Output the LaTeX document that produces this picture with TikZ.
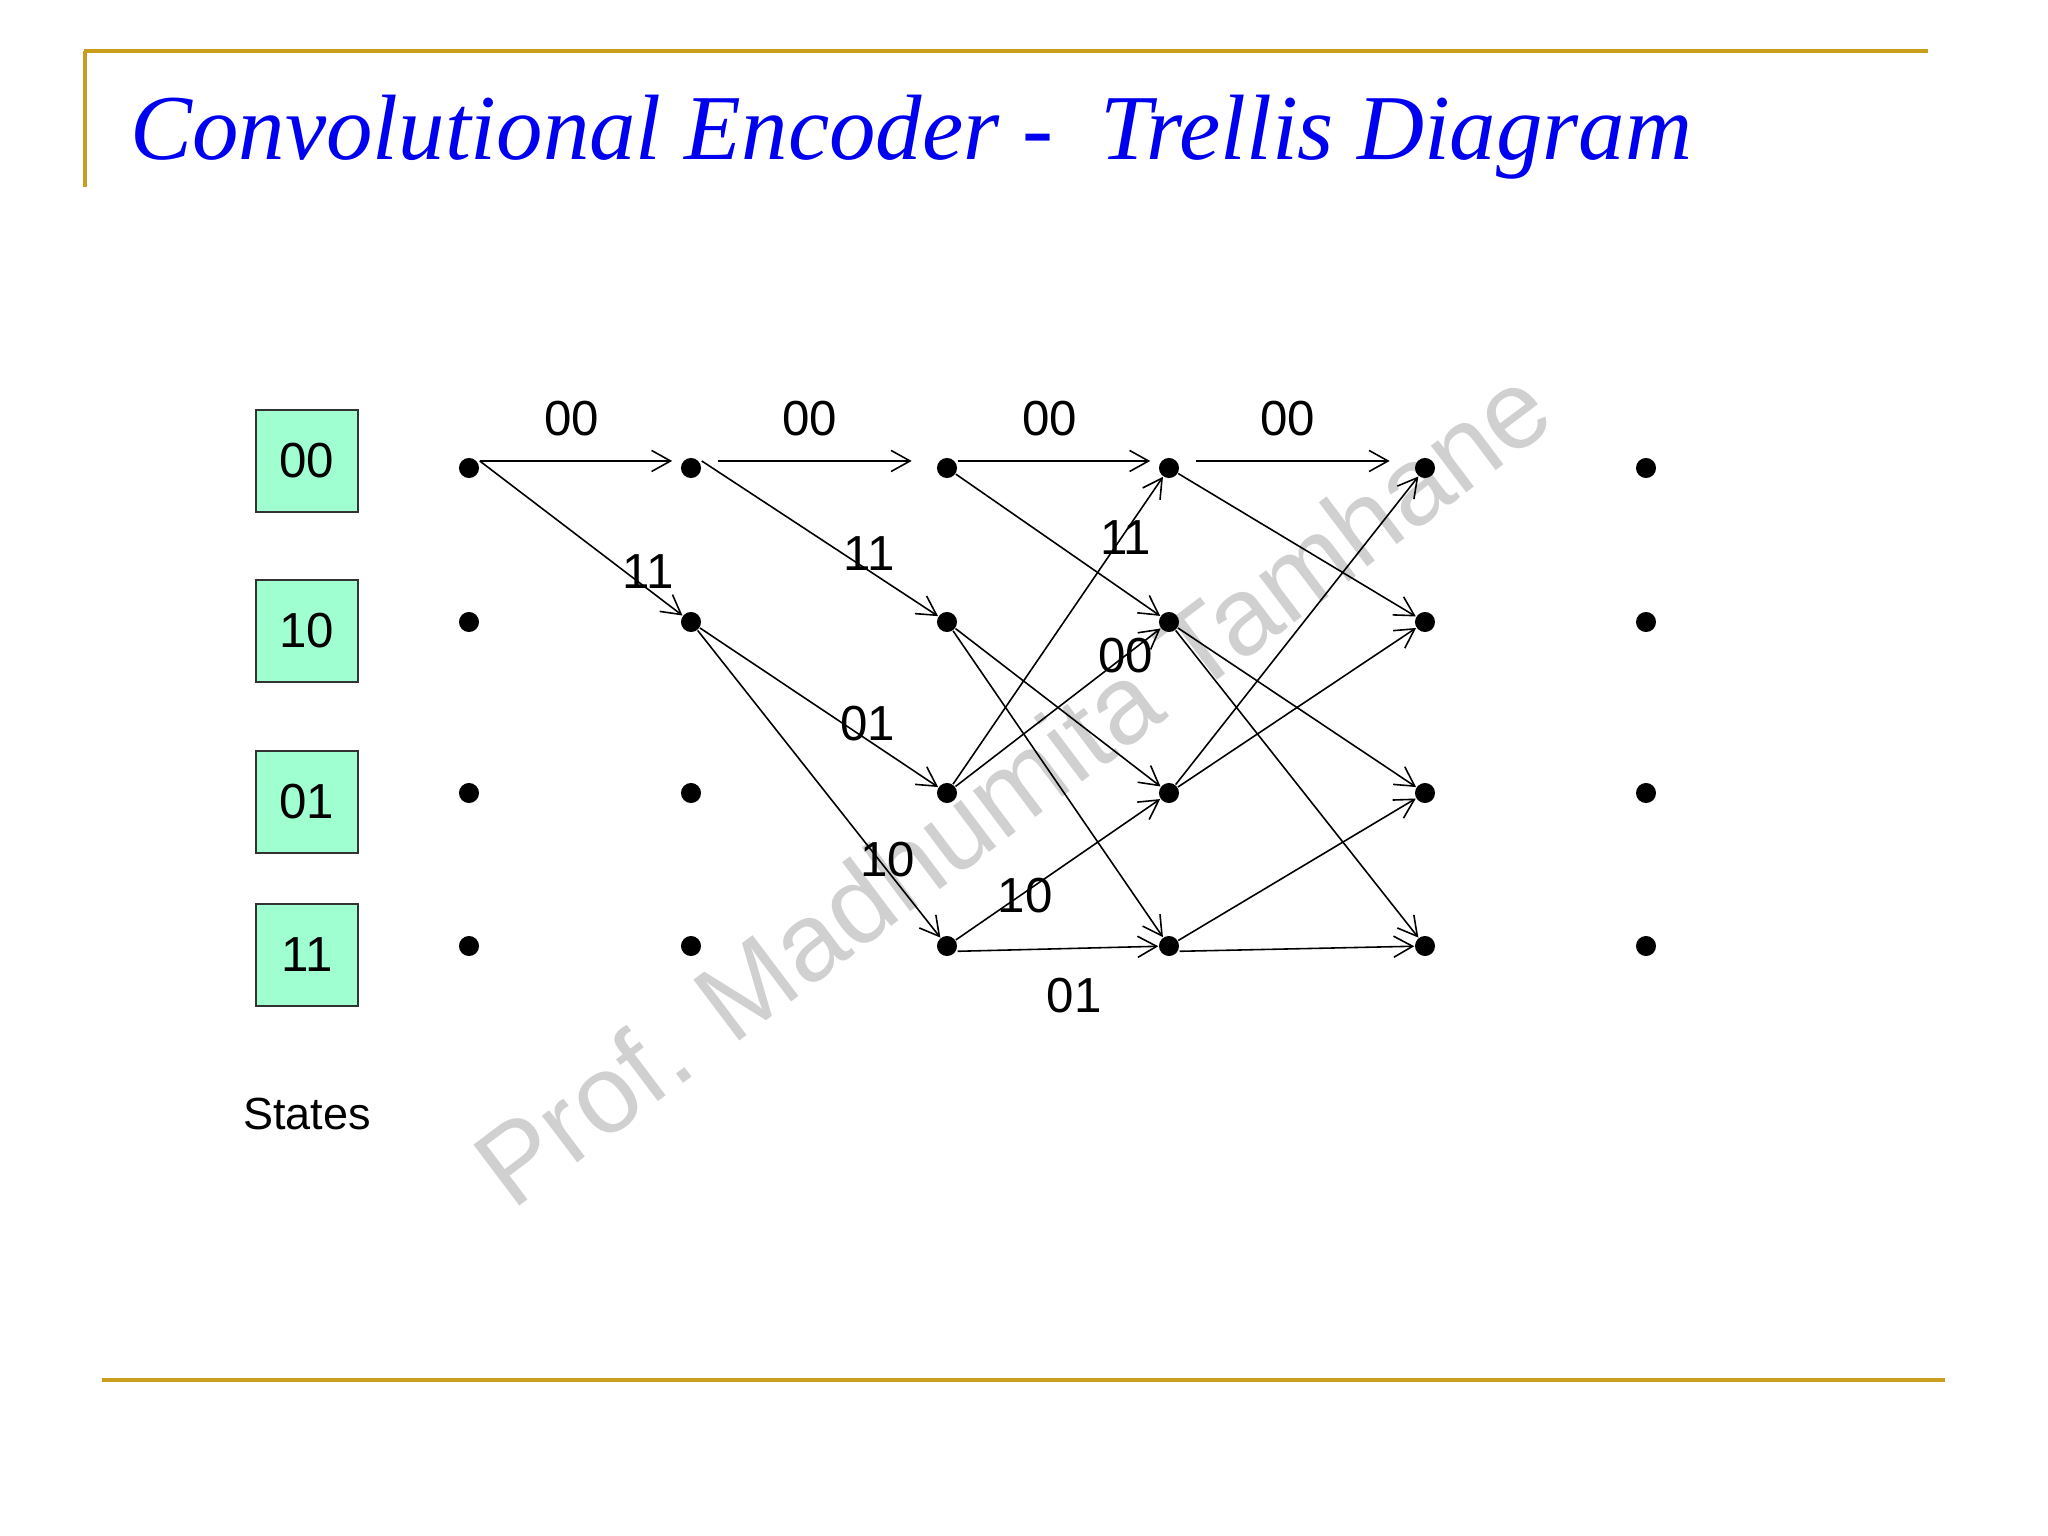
\documentclass[tikz,border=0pt]{standalone}
\usepackage{fontspec}
\setmainfont{Liberation Sans}
\newfontfamily\titlefont{Liberation Serif}
\usetikzlibrary{arrows.meta}
\definecolor{rulegold}{RGB}{201,158,30}
\definecolor{stategreen}{RGB}{160,255,208}
\definecolor{titleblue}{RGB}{0,0,240}
\definecolor{markgray}{RGB}{208,208,208}
\tikzset{
    trellisdot/.style={circle, fill=black, inner sep=0pt, minimum size=5.7pt},
    statebox/.style={rectangle, draw=black!80, line width=0.5pt, fill=stategreen,
                     minimum width=29pt, minimum height=29pt, inner sep=0pt,
                     font=\fontsize{14}{17}\selectfont},
    arrow/.style={-{Straight Barb[length=5.4pt, width=6pt]}, line width=0.45pt, draw=black},
    edgelbl/.style={font=\fontsize{14}{17}\selectfont, inner sep=0pt},
    goldrule/.style={draw=rulegold, line width=1.3pt},
}

\begin{document}
\begin{tikzpicture}[x=0.01cm, y=-0.01cm]
    \useasboundingbox (0,0) rectangle (2048,1536);
    % watermark
    \node[text=markgray, rotate=37, font=\fontsize{31.5}{38}\selectfont] (mark) at (1012,786)
        {Prof. Madhumita Tamhane};
    % frame
    \draw[goldrule] (84,51) -- (1928,51);
    \draw[goldrule] (85,51) -- (85,187);
    \draw[goldrule] (102,1380) -- (1945,1380);
    \node[text=titleblue, anchor=base west, font=\titlefont\itshape\fontsize{26.4}{32}\selectfont]
        (title) at (118,159) {Convolutional Encoder -\ \ Trellis Diagram};
    % states
    \node[statebox] (s00) at (307,461) {00};
    \node[statebox] (s10) at (307,631) {10};
    \node[statebox] (s01) at (307,802) {01};
    \node[statebox] (s11) at (307,955) {11};
    \node[edgelbl, font=\fontsize{12.8}{15}\selectfont] (states) at (307,1114) {States};
    % trellis points
    \node[trellisdot] (n01) at (469,468) {};
    \node[trellisdot] (n02) at (469,622) {};
    \node[trellisdot] (n03) at (469,793) {};
    \node[trellisdot] (n04) at (469,946) {};
    \node[trellisdot] (n11) at (691,468) {};
    \node[trellisdot] (n12) at (691,622) {};
    \node[trellisdot] (n13) at (691,793) {};
    \node[trellisdot] (n14) at (691,946) {};
    \node[trellisdot] (n21) at (947,468) {};
    \node[trellisdot] (n22) at (947,622) {};
    \node[trellisdot] (n23) at (947,793) {};
    \node[trellisdot] (n24) at (947,946) {};
    \node[trellisdot] (n31) at (1169,468) {};
    \node[trellisdot] (n32) at (1169,622) {};
    \node[trellisdot] (n33) at (1169,793) {};
    \node[trellisdot] (n34) at (1169,946) {};
    \node[trellisdot] (n41) at (1425,468) {};
    \node[trellisdot] (n42) at (1425,622) {};
    \node[trellisdot] (n43) at (1425,793) {};
    \node[trellisdot] (n44) at (1425,946) {};
    \node[trellisdot] (n51) at (1646,468) {};
    \node[trellisdot] (n52) at (1646,622) {};
    \node[trellisdot] (n53) at (1646,793) {};
    \node[trellisdot] (n54) at (1646,946) {};
    % stage 1
    \draw[arrow, shorten >=2.3pt] ([yshift=2pt]n01.east) --
        node[edgelbl, pos=0.46, yshift=12.2pt] {00} ([yshift=2pt]n11.west);
    \draw[arrow] ([yshift=2pt]n01.east) -- node[edgelbl, pos=0.83, yshift=5pt] {11} (n12);
    % stage 2
    \draw[arrow, shorten <=4.5pt, shorten >=7pt] ([yshift=2pt]n11.east) --
        node[edgelbl, pos=0.46, yshift=12.2pt] {00} ([yshift=2pt]n21.west);
    \draw[arrow] ([yshift=2pt]n11.east) -- node[edgelbl, pos=0.71, yshift=5pt] {11} (n22);
    \draw[arrow] (n12) -- node[edgelbl, pos=0.705, yshift=4.6pt] {01} (n23);
    \draw[arrow] (n12) -- node[edgelbl, pos=0.783, yshift=3.1pt] {10} (n24);
    % stage 3
    \draw[arrow, shorten >=2.3pt] ([yshift=2pt]n21.east) --
        node[edgelbl, pos=0.46, yshift=12.2pt] {00} ([yshift=2pt]n31.west);
    \draw[arrow] (n21) -- (n32);
    \draw[arrow] (n22) -- (n33);
    \draw[arrow] (n22) -- (n34);
    \draw[arrow] (n23) -- node[edgelbl, pos=0.823, yshift=-1.7pt] {11} (n31);
    \draw[arrow] (n23) -- node[edgelbl, pos=0.83] {00} (n32);
    \draw[arrow] (n24) -- node[edgelbl, pos=0.34, yshift=-1pt] {10} (n33);
    \draw[arrow] ([yshift=-1.5pt]n24.east) -- node[edgelbl, pos=0.58, yshift=-13.4pt] {01} (n34);
    % stage 4
    \draw[arrow, shorten <=4.5pt, shorten >=7pt] ([yshift=2pt]n31.east) --
        node[edgelbl, pos=0.46, yshift=12.2pt] {00} ([yshift=2pt]n41.west);
    \draw[arrow] (n31) -- (n42);
    \draw[arrow] (n32) -- (n43);
    \draw[arrow] (n32) -- (n44);
    \draw[arrow] (n33) -- (n41);
    \draw[arrow] (n33) -- (n42);
    \draw[arrow] (n34) -- (n43);
    \draw[arrow] ([yshift=-1.5pt]n34.east) -- (n44);
\end{tikzpicture}
\end{document}
